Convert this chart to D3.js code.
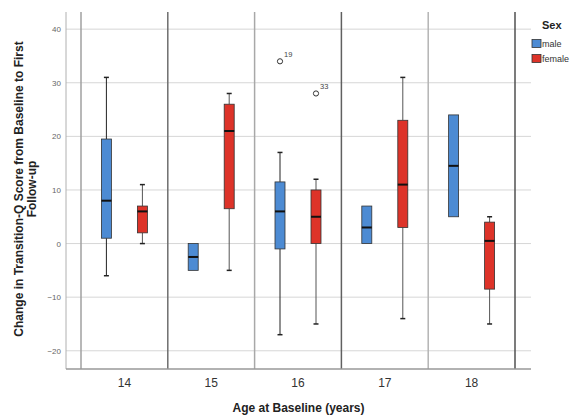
<!DOCTYPE html>
<html>
<head>
<meta charset="utf-8">
<script src="https://cdn.jsdelivr.net/npm/d3@7/dist/d3.min.js"></script>
<style>
  html, body { margin: 0; padding: 0; background: #fff; }
  svg { display: block; font-family: "Liberation Sans", Arial, Helvetica, sans-serif; }
</style>
</head>
<body>
<svg id="chart" width="578" height="417"></svg>
<script>
// Age groups and sex groups
const ages = ["14", "15", "16", "17", "18"];
const sexes = ["male", "female"];
const sexColors = ["#4d8bd3", "#dd3329"];

// Box summaries per age: [lower whisker, Q1, median, Q3, upper whisker]
const maleStats = [
  [-6, 1, 8, 19.5, 31],
  [-5, -5, -2.5, 0, 0],
  [-17, -1, 6, 11.5, 17],
  [0, 0, 3, 7, 7],
  [5, 5, 14.5, 24, 24]
];
const femaleStats = [
  [0, 2, 6, 7, 11],
  [-5, 6.5, 21, 26, 28],
  [-15, 0, 5, 10, 12],
  [-14, 3, 11, 23, 31],
  [-15, -8.5, 0.5, 4, 5]
];

// Outlying cases: age, sex, value, case label
const outlierAges = ["16", "16"];
const outlierSexes = ["male", "female"];
const outlierValues = [34, 28];
const outlierLabels = ["19", "33"];

const yTicks = [-20, -10, 0, 10, 20, 30, 40];

const svg = d3.select("#chart");

const plotLeft = 66, plotRight = 531, plotTop = 12, plotBottom = 369;

const x = d3.scaleBand().domain(ages).range([81, 515]).padding(0);
const xSex = d3.scalePoint().domain(sexes).range([-18, 18]);
const y = d3.scaleLinear().domain([-23.4, 43.2]).range([plotBottom, plotTop]);
const color = d3.scaleOrdinal().domain(sexes).range(sexColors);

// Horizontal gridlines
svg.append("g")
  .selectAll("line")
  .data(yTicks)
  .join("line")
  .attr("x1", plotLeft).attr("x2", plotRight)
  .attr("y1", d => y(d)).attr("y2", d => y(d))
  .attr("stroke", "#d6d6d6").attr("stroke-width", 1);

// Category separators
const sepColors = ["#a0a0a0", "#6e6e6e", "#a8a8a8", "#606060", "#b4b4b4", "#505050"];
const seps = ages.map(a => x(a)).concat([x(ages[ages.length - 1]) + x.bandwidth()]);
svg.append("g")
  .selectAll("line")
  .data(seps)
  .join("line")
  .attr("x1", d => d).attr("x2", d => d)
  .attr("y1", plotTop).attr("y2", plotBottom)
  .attr("stroke", (d, i) => sepColors[i]).attr("stroke-width", 1.5);

// Axis frame lines
svg.append("line")
  .attr("x1", plotLeft).attr("x2", plotLeft)
  .attr("y1", plotTop).attr("y2", plotBottom)
  .attr("stroke", "#b0b0b0").attr("stroke-width", 1);
svg.append("line")
  .attr("x1", plotLeft).attr("x2", plotRight)
  .attr("y1", plotBottom).attr("y2", plotBottom)
  .attr("stroke", "#999").attr("stroke-width", 1.5);

// Y axis labels
const yAxis = d3.axisLeft(y).tickValues(yTicks).tickSize(0).tickPadding(5);
const gy = svg.append("g").attr("transform", `translate(${plotLeft},0)`).call(yAxis);
gy.select(".domain").remove();
gy.selectAll("text").attr("font-size", 8).attr("fill", "#666")
  .attr("font-family", "'Liberation Sans', Arial, sans-serif");

// X axis labels
const xAxis = d3.axisBottom(x).tickSize(0).tickPadding(9);
const gx = svg.append("g").attr("transform", `translate(0,${plotBottom})`).call(xAxis);
gx.select(".domain").remove();
gx.selectAll("text").attr("font-size", 12).attr("fill", "#333")
  .attr("font-family", "'Liberation Sans', Arial, sans-serif");

// Box plot records
const boxes = [];
ages.forEach((a, i) => {
  boxes.push({ age: a, sex: "male", s: maleStats[i] });
  boxes.push({ age: a, sex: "female", s: femaleStats[i] });
});

const boxW = 10, capW = 5;
const cx = d => x(d.age) + x.bandwidth() / 2 + xSex(d.sex);

const gb = svg.append("g");
boxes.forEach(d => {
  const c = cx(d);
  const [lo, q1, med, q3, hi] = d.s;
  const g = gb.append("g");
  const wColor = d.sex === "male" ? "#222" : "#555";
  // whiskers
  if (hi > q3) {
    g.append("line").attr("x1", c).attr("x2", c).attr("y1", y(q3)).attr("y2", y(hi))
      .attr("stroke", wColor).attr("stroke-width", 1);
    g.append("line").attr("x1", c - capW / 2).attr("x2", c + capW / 2).attr("y1", y(hi)).attr("y2", y(hi))
      .attr("stroke", "#222").attr("stroke-width", 1.5);
  }
  if (lo < q1) {
    g.append("line").attr("x1", c).attr("x2", c).attr("y1", y(q1)).attr("y2", y(lo))
      .attr("stroke", wColor).attr("stroke-width", 1);
    g.append("line").attr("x1", c - capW / 2).attr("x2", c + capW / 2).attr("y1", y(lo)).attr("y2", y(lo))
      .attr("stroke", "#222").attr("stroke-width", 1.5);
  }
  // box
  g.append("rect")
    .attr("x", c - boxW / 2).attr("y", y(q3))
    .attr("width", boxW).attr("height", y(q1) - y(q3))
    .attr("fill", color(d.sex)).attr("stroke", "#333").attr("stroke-width", 0.8);
  // median
  g.append("line").attr("x1", c - boxW / 2).attr("x2", c + boxW / 2)
    .attr("y1", y(med)).attr("y2", y(med))
    .attr("stroke", "#111").attr("stroke-width", 2);
});

// Outliers
const outliers = outlierValues.map((v, i) => ({ age: outlierAges[i], sex: outlierSexes[i], v, label: outlierLabels[i] }));
const go = svg.append("g");
go.selectAll("circle").data(outliers).join("circle")
  .attr("cx", d => cx(d)).attr("cy", d => y(d.v)).attr("r", 2.6)
  .attr("fill", "#fff").attr("stroke", "#333").attr("stroke-width", 1);
go.selectAll("text").data(outliers).join("text")
  .attr("x", d => cx(d) + 4).attr("y", d => y(d.v) - 4)
  .attr("font-size", 7.5).attr("fill", "#444")
  .text(d => d.label);

// Axis titles
svg.append("text")
  .attr("x", (plotLeft + plotRight) / 2).attr("y", 412)
  .attr("text-anchor", "middle").attr("font-size", 12).attr("font-weight", "bold").attr("fill", "#222")
  .text("Age at Baseline (years)");

const yTitle = svg.append("text")
  .attr("transform", "translate(23,189) rotate(-90)")
  .attr("text-anchor", "middle").attr("font-size", 12).attr("font-weight", "bold").attr("fill", "#222");
yTitle.append("tspan").attr("x", 0).attr("dy", 0).text("Change in Transition-Q Score from Baseline to First");
yTitle.append("tspan").attr("x", 0).attr("dy", 12.5).text("Follow-up");

// Legend
const lg = svg.append("g");
lg.append("text").attr("x", 542).attr("y", 29)
  .attr("font-size", 11).attr("font-weight", "bold").attr("fill", "#222").text("Sex");
sexes.forEach((s, i) => {
  lg.append("rect").attr("x", 532).attr("y", 39.5 + i * 15).attr("width", 9).attr("height", 8)
    .attr("fill", color(s)).attr("stroke", "#333").attr("stroke-width", 0.8);
  lg.append("text").attr("x", 542).attr("y", 47 + i * 15)
    .attr("font-size", 9).attr("fill", "#333").text(s);
});
</script>
</body>
</html>
